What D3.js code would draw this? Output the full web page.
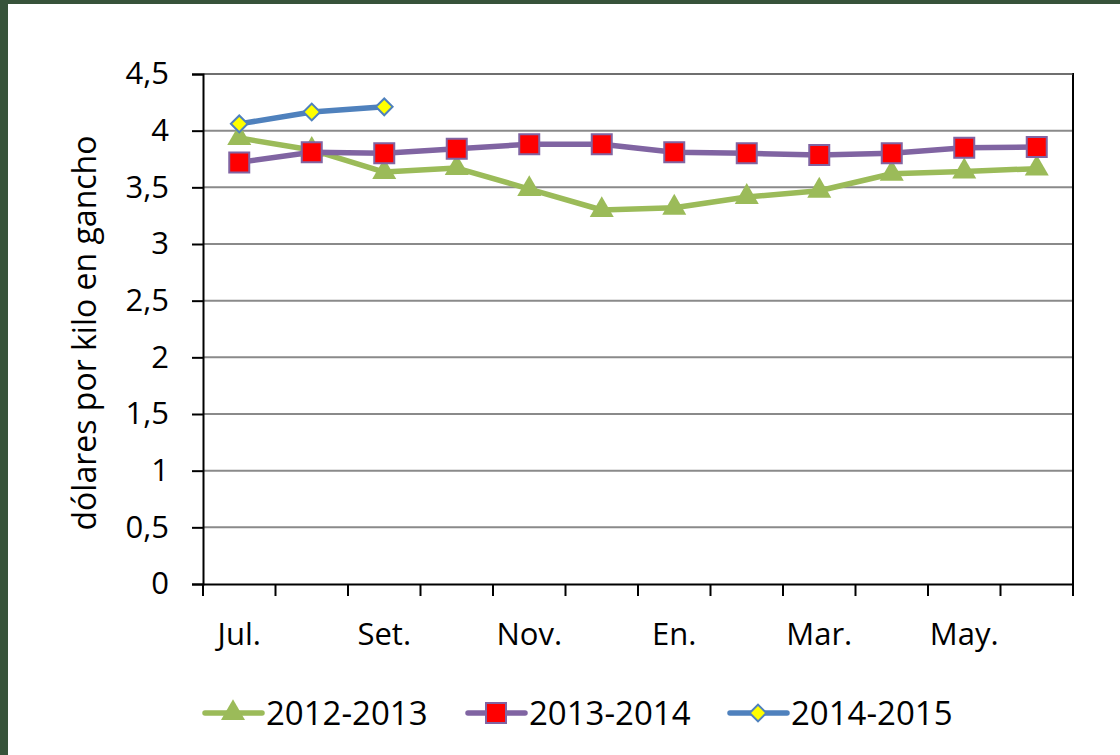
<!DOCTYPE html>
<html><head><meta charset="utf-8">
<script src="https://cdn.jsdelivr.net/npm/d3@7"></script>
<style>body{margin:0;background:#fff}svg{display:block}</style>
</head><body>
<svg id="c" width="1120" height="755"></svg>
<script>
const months = ["Jul.","Ago.","Set.","Oct.","Nov.","Dic.","En.","Feb.","Mar.","Abr.","May.","Jun."];
const shownMonths = ["Jul.","Set.","Nov.","En.","Mar.","May."];
const s2012 = [3.935,3.83,3.635,3.67,3.485,3.30,3.32,3.415,3.47,3.62,3.64,3.665];
const s2013 = [3.72,3.81,3.80,3.84,3.88,3.88,3.81,3.80,3.785,3.80,3.85,3.855];
const s2014 = [4.06,4.165,4.21];
const seriesNames = ["2012-2013","2013-2014","2014-2015"];
const yTicks = [0,0.5,1,1.5,2,2.5,3,3.5,4,4.5];

const FONT = "'Open Sans', Lato, sans-serif";
const svg = d3.select("#c");
// frame
svg.append("rect").attr("x",0).attr("y",0).attr("width",1120).attr("height",755).attr("fill","#37533a");
svg.append("rect").attr("x",8).attr("y",4).attr("width",1112).attr("height",751).attr("fill","#fff");

const L=203,R=1073,T=74,B=584;
const x = d3.scaleBand().domain(months).range([L,R]).padding(0);
const y = d3.scaleLinear().domain([0,4.5]).range([B,T]);
const cx = m => x(m)+x.bandwidth()/2;

// gridlines
svg.append("g").selectAll("line").data(yTicks.filter(d=>d>0)).join("line")
  .attr("x1",L).attr("x2",R).attr("y1",d=>y(d)).attr("y2",d=>y(d))
  .attr("stroke","#8a8a8a").attr("stroke-width",2);
// right border
svg.append("line").attr("x1",R).attr("x2",R).attr("y1",T-1).attr("y2",B).attr("stroke","#000").attr("stroke-width",2);
svg.append("line").attr("x1",L).attr("x2",R).attr("y1",T).attr("y2",T).attr("stroke","#555").attr("stroke-width",1);

// y axis
const fmt = d => String(d).replace(".",",");
const yAxis = svg.append("g").attr("transform",`translate(${L},0)`)
  .call(d3.axisLeft(y).tickValues(yTicks).tickFormat(fmt).tickSize(11).tickPadding(23));
yAxis.select(".domain").attr("stroke","#000").attr("stroke-width",2);
yAxis.selectAll(".tick line").attr("stroke","#000").attr("stroke-width",2);
yAxis.selectAll("text").attr("font-family",FONT).attr("font-size",31).attr("fill","#000");

// x axis
const xAxis = svg.append("g").attr("transform",`translate(0,${B})`)
  .call(d3.axisBottom(x).tickValues([]).tickSize(0));
xAxis.select(".domain").attr("stroke","#000").attr("stroke-width",2);
const bounds = months.map(m=>x(m)).concat([R]);
svg.append("g").selectAll("line").data(bounds).join("line")
  .attr("x1",d=>d).attr("x2",d=>d).attr("y1",B).attr("y2",B+12)
  .attr("stroke","#000").attr("stroke-width",2);
svg.append("g").selectAll("text").data(shownMonths).join("text")
  .attr("x",d=>cx(d)).attr("y",645).attr("text-anchor","middle")
  .attr("font-family",FONT).attr("font-size",31).attr("fill","#000").text(d=>d);

// y title
svg.append("text").attr("transform","translate(96,333) rotate(-90)")
  .attr("text-anchor","middle").attr("font-family",FONT).attr("font-size",32)
  .attr("fill","#000").text("dólares por kilo en gancho");

const line = d3.line().x((d,i)=>cx(months[i])).y(d=>y(d));
const styles = [
  {data:s2012,color:"#9bbb59",sym:d3.symbolTriangle,size:250,fill:"#9bbb59",stroke:"none"},
  {data:s2013,color:"#8064a2",sym:d3.symbolSquare,size:400,fill:"#ff0000",stroke:"#8064a2"},
  {data:s2014,color:"#4f81bd",sym:d3.symbolSquare,size:140,fill:"#ffff00",stroke:"#4f81bd",rot:45}
];
styles.forEach(s=>{
  svg.append("path").datum(s.data).attr("d",line).attr("fill","none")
    .attr("stroke",s.color).attr("stroke-width",5.5).attr("stroke-linejoin","round");
});
styles.forEach(s=>{
  svg.append("g").selectAll("path").data(s.data).join("path")
    .attr("d",d3.symbol().type(s.sym).size(s.size))
    .attr("transform",(d,i)=>`translate(${cx(months[i])},${y(d)})${s.rot?` rotate(${s.rot})`:""}`)
    .attr("fill",s.fill).attr("stroke",s.stroke).attr("stroke-width",2);
});

// legend
const legX = [205,468,730];
const lg = svg.append("g");
styles.forEach((s,i)=>{
  const g = lg.append("g").attr("transform",`translate(${legX[i]},713)`);
  g.append("line").attr("x1",0).attr("x2",57).attr("stroke",s.color).attr("stroke-width",5.5).attr("stroke-linecap","round");
  g.append("path").attr("d",d3.symbol().type(s.sym).size(s.size))
    .attr("transform",`translate(28,0)${s.rot?` rotate(${s.rot})`:""}`)
    .attr("fill",s.fill).attr("stroke",s.stroke).attr("stroke-width",2);
  g.append("text").attr("x",61).attr("y",12).attr("font-family",FONT).attr("font-size",33)
    .attr("fill","#000").text(seriesNames[i]);
});
</script>
</body></html>
